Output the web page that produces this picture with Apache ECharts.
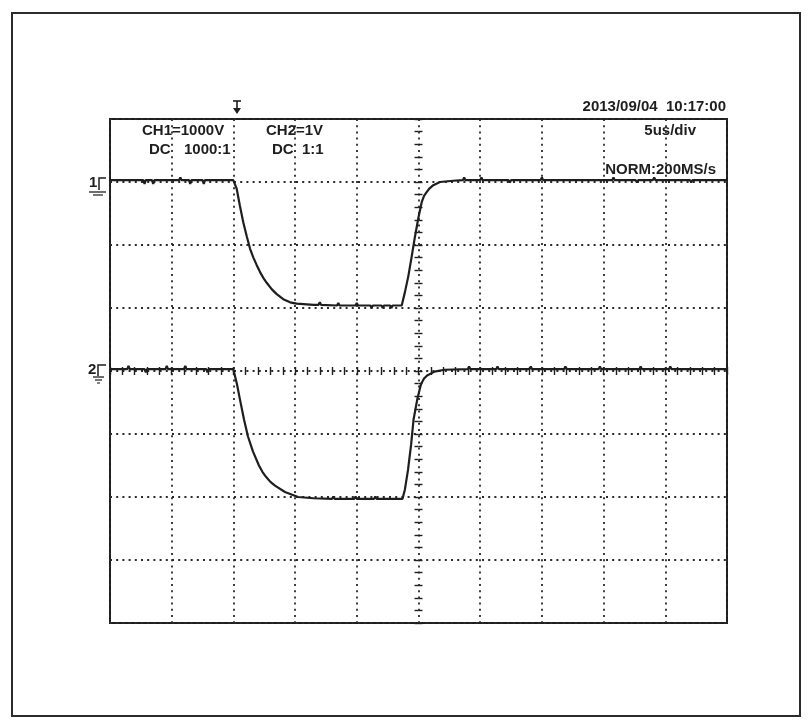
<!DOCTYPE html>
<html>
<head>
<meta charset="utf-8">
<title>Oscilloscope capture</title>
<script src="https://cdn.jsdelivr.net/npm/echarts@6/dist/echarts.min.js"></script>
<style>
  html, body { margin: 0; padding: 0; background: #fff; }
  #chart { width: 811px; height: 727px; }
</style>
</head>
<body>
<div id="chart"></div>
<script>
// Time axis: microseconds relative to screen centre (5 us/div, 10 divisions)
const timeTicks = [-25, 25, 5];
// Vertical axis: divisions (8 divisions, centre = 0)
const divTicks = [-4, 4, 1];

// CH1 trace (time in us, level in divisions)
const ch1Time = [-25, -22.3, -22.2, -22.1, -21.6, -21.5, -21.4, -19.4, -19.3, -19.2, -18.6, -18.5, -18.4, -17.5, -17.4, -17.3, -15.01,
  -14.73, -14.47, -14.2, -13.92, -13.65, -13.38, -13.11, -12.84, -12.58, -12.3, -11.9, -11.49, -10.96, -10.41, -9.87,
  -8.5, -8.1, -8.0, -7.9, -6.6, -6.5, -6.4, -5.1, -5.0, -4.9, -3.9, -3.8, -3.7, -3.0, -2.9, -2.8, -2.3, -2.2, -2.1, -1.36,
  -1.09, -0.82, -0.55, -0.28, 0, 0.26, 0.45, 0.66, 0.9, 1.2, 1.74, 2.8,
  3.6, 3.7, 3.8, 5.0, 5.1, 5.2, 7.3, 7.4, 7.5, 9.9, 10.0, 10.1, 15.7, 15.8, 15.9, 17.6, 17.7, 17.8, 19.0, 19.1, 19.2, 22.0, 22.1, 22.2, 25];
const ch1Level = [3.03, 3.03, 2.97, 3.03, 3.03, 2.97, 3.03, 3.03, 3.07, 3.03, 3.03, 2.97, 3.03, 3.03, 2.97, 3.03, 3.03,
  2.89, 2.62, 2.36, 2.14, 1.94, 1.80, 1.68, 1.57, 1.48, 1.40, 1.30, 1.22, 1.14, 1.09, 1.07,
  1.05, 1.05, 1.09, 1.05, 1.04, 1.08, 1.04, 1.04, 1.08, 1.04, 1.04, 1.0, 1.04, 1.04, 1.0, 1.04, 1.04, 1.0, 1.04, 1.04,
  1.26, 1.51, 1.82, 2.14, 2.44, 2.68, 2.78, 2.84, 2.9, 2.95, 3.0, 3.02,
  3.03, 3.07, 3.03, 3.03, 3.07, 3.03, 3.03, 2.99, 3.03, 3.03, 3.07, 3.03, 3.03, 3.07, 3.03, 3.03, 2.99, 3.03, 3.03, 3.07, 3.03, 3.03, 2.99, 3.03, 3.03];

// CH2 trace (time in us, level in divisions)
const ch2Time = [-25, -23.6, -23.5, -23.4, -22.2, -22.1, -22.0, -20.5, -20.4, -20.3, -19.0, -18.9, -18.8, -17.2, -17.1, -17.0, -15.01,
  -14.71, -14.47, -14.14, -13.82, -13.41, -12.93, -12.65, -12.36, -12.0, -11.63, -10.82, -9.76,
  -8.5, -7.0, -6.9, -6.8, -5.2, -5.1, -5.0, -3.6, -3.5, -3.4, -1.3,
  -1.1, -0.85, -0.6, -0.4, -0.1, 0.2, 0.45, 0.7, 1.3, 2.1,
  4.0, 4.1, 4.2, 6.3, 6.4, 6.5, 9.0, 9.1, 9.2, 11.8, 11.9, 12.0, 14.6, 14.7, 14.8, 17.9, 18.0, 18.1, 20.3, 20.4, 20.5, 25];
const ch2Level = [0.03, 0.03, 0.08, 0.03, 0.03, -0.02, 0.03, 0.03, 0.08, 0.03, 0.03, 0.08, 0.03, 0.03, -0.02, 0.03, 0.03,
  -0.21, -0.45, -0.77, -1.04, -1.28, -1.5, -1.6, -1.68, -1.76, -1.82, -1.92, -2.0,
  -2.02, -2.03, -1.99, -2.03, -2.03, -1.99, -2.03, -2.03, -1.99, -2.03, -2.03,
  -1.88, -1.57, -1.17, -0.77, -0.45, -0.21, -0.12, -0.07, -0.01, 0.02,
  0.03, 0.07, 0.03, 0.03, 0.07, 0.03, 0.03, 0.07, 0.03, 0.03, 0.07, 0.03, 0.03, 0.07, 0.03, 0.03, 0.07, 0.03, 0.03, 0.07, 0.03, 0.03];

// Header readouts
const ch1Scale = 'CH1=1000V';
const ch1Coupling = ['DC', '1000:1'];
const ch2Scale = 'CH2=1V';
const ch2Coupling = ['DC', '1:1'];
const stamp = '2013/09/04  10:17:00';
const timeBase = '5us/div';
const acqMode = 'NORM:200MS/s';

const zip = (xs, ys) => xs.map((x, i) => [x, ys[i]]);

const ink = '#1e1e1e';
const gridInk = '#2a2a2a';
const font = '"Liberation Sans", Arial, sans-serif';

const dotted = { color: gridInk, width: 1.8, type: [2, 4.2] };

function hiddenAxis(extra) {
  return Object.assign({
    axisLabel: { show: false },
    axisTick: { show: false },
    axisLine: { show: false, onZero: false },
    splitLine: { show: false }
  }, extra);
}

function textEl(str, x, y, align) {
  return {
    type: 'text', x: x, y: y, z: 50,
    style: { text: str, fill: ink, font: 'bold 15px ' + font, textAlign: align || 'left', textVerticalAlign: 'middle' }
  };
}

const chart = echarts.init(document.getElementById('chart'), null, { renderer: 'canvas' });

const gridBox = { left: 110, top: 119, width: 617, height: 504 };

// centre graticule axes: ticks on both sides of the centre lines
function centreX(inside) {
  return hiddenAxis({
    min: timeTicks[0], max: timeTicks[1], interval: 1, type: 'value',
    axisLine: { show: false, onZero: true, onZeroAxisIndex: 0 },
    axisTick: { show: true, inside: inside, length: 4, lineStyle: { color: ink, width: 1.4 } }
  });
}
function centreY(inside) {
  return hiddenAxis({
    min: divTicks[0], max: divTicks[1], interval: 0.2, type: 'value',
    axisLine: { show: false, onZero: true, onZeroAxisIndex: 0 },
    axisTick: { show: true, inside: inside, length: 4, lineStyle: { color: ink, width: 1.4 } }
  });
}

chart.setOption({
  animation: false,
  backgroundColor: '#ffffff',
  grid: Object.assign({ show: true, borderColor: ink, borderWidth: 2, backgroundColor: 'transparent' }, gridBox),
  xAxis: [
    hiddenAxis({ type: 'value', min: timeTicks[0], max: timeTicks[1], interval: timeTicks[2], splitLine: { show: true, lineStyle: dotted } }),
    centreX(true),
    centreX(false)
  ],
  yAxis: [
    hiddenAxis({ type: 'value', min: divTicks[0], max: divTicks[1], interval: divTicks[2], splitLine: { show: true, lineStyle: dotted } }),
    centreY(true),
    centreY(false)
  ],
  series: [
    {
      name: 'CH1', type: 'line', data: zip(ch1Time, ch1Level), showSymbol: false, z: 10,
      lineStyle: { color: ink, width: 2.2 }
    },
    {
      name: 'CH2', type: 'line', data: zip(ch2Time, ch2Level), showSymbol: false, z: 10,
      lineStyle: { color: ink, width: 2.2 }
    }
  ],
  graphic: [
    // page border
    { type: 'rect', shape: { x: 12, y: 13, width: 788, height: 703 }, style: { fill: null, stroke: '#2b2b2b', lineWidth: 2 }, z: 1 },
    textEl(ch1Scale, 142, 131),
    textEl(ch1Coupling[0], 149, 150),
    textEl(ch1Coupling[1], 184, 150),
    textEl(ch2Scale, 266, 131),
    textEl(ch2Coupling[0], 272, 150),
    textEl(ch2Coupling[1], 302, 150),
    textEl(stamp, 726, 107, 'right'),
    textEl(timeBase, 696, 131, 'right'),
    textEl(acqMode, 716, 170, 'right'),
    // trigger position marker
    { type: 'polyline', shape: { points: [[233, 101], [241, 101]] }, style: { stroke: ink, lineWidth: 1.6 }, z: 50 },
    { type: 'polyline', shape: { points: [[237, 101], [237, 110]] }, style: { stroke: ink, lineWidth: 1.6 }, z: 50 },
    { type: 'polygon', shape: { points: [[233, 108], [241, 108], [237, 114]] }, style: { fill: ink }, z: 50 },
    // CH1 ground marker
    textEl('1', 89, 183),
    { type: 'polyline', shape: { points: [[106, 178], [99, 178], [99, 190]] }, style: { stroke: ink, lineWidth: 1.5, fill: null }, z: 50 },
    { type: 'polyline', shape: { points: [[89, 192], [106, 192]] }, style: { stroke: ink, lineWidth: 1.3 }, z: 50 },
    { type: 'polyline', shape: { points: [[93, 195], [103, 195]] }, style: { stroke: ink, lineWidth: 1.2 }, z: 50 },
    // CH2 ground marker
    textEl('2', 88, 370),
    { type: 'polyline', shape: { points: [[106, 365], [98, 365], [98, 376]] }, style: { stroke: ink, lineWidth: 1.5, fill: null }, z: 50 },
    { type: 'polyline', shape: { points: [[93, 377], [104, 377]] }, style: { stroke: ink, lineWidth: 1.3 }, z: 50 },
    { type: 'polyline', shape: { points: [[95, 380], [102, 380]] }, style: { stroke: ink, lineWidth: 1.2 }, z: 50 },
    { type: 'polyline', shape: { points: [[97, 383], [100, 383]] }, style: { stroke: ink, lineWidth: 1.1 }, z: 50 }
  ]
});
</script>
</body>
</html>
